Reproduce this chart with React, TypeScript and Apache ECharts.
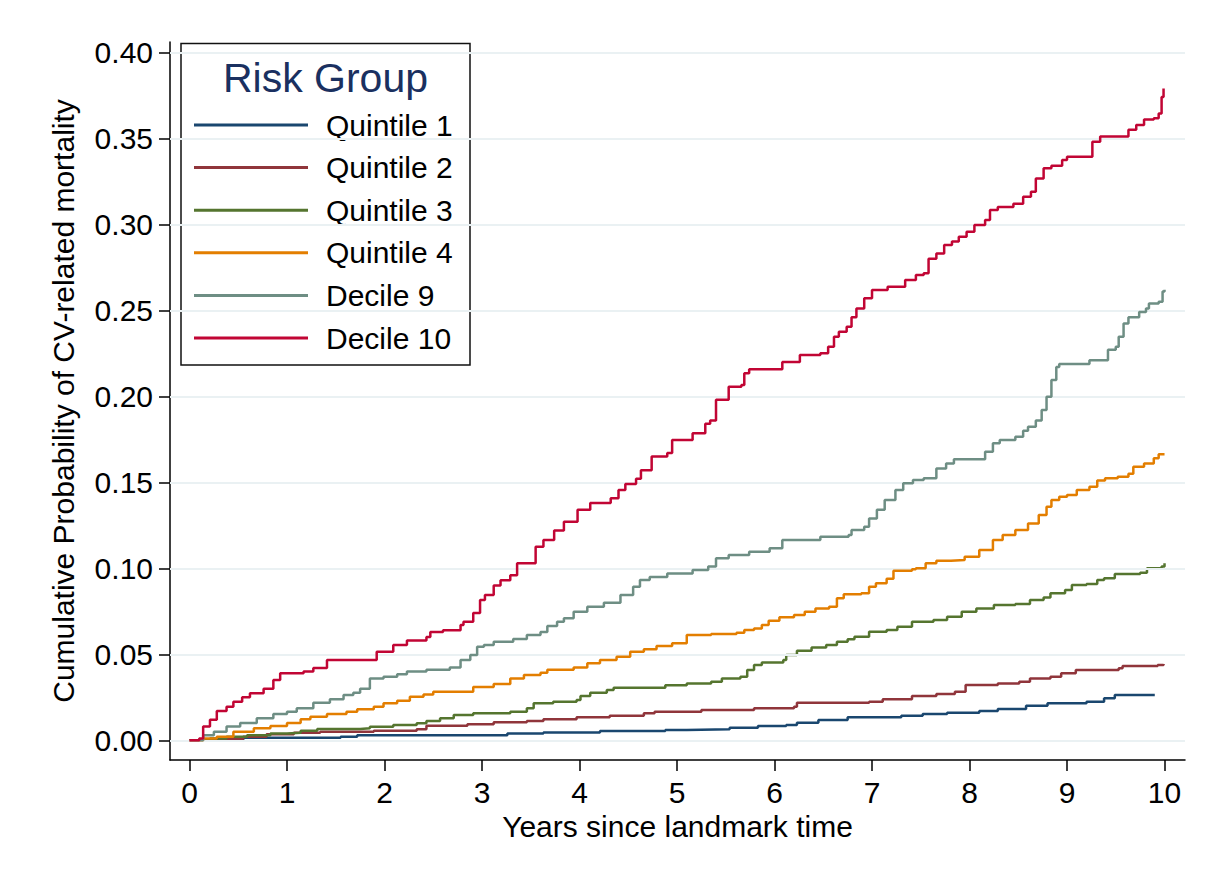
import React, { useEffect, useRef } from "react";
import * as echarts from "echarts";

const groups = ["Quintile 1", "Quintile 2", "Quintile 3", "Quintile 4", "Decile 9", "Decile 10"];
const colors = ["#1a476f", "#90353b", "#55752f", "#e37e00", "#6e8e84", "#c10534"];
const xTicks = [0, 1, 2, 3, 4, 5, 6, 7, 8, 9, 10];
const yTicks = [0, 0.05, 0.1, 0.15, 0.2, 0.25, 0.3, 0.35, 0.4];
const xTitle = "Years since landmark time";
const yTitle = "Cumulative Probability of CV-related mortality";
const legendTitle = "Risk Group";

const quintile1 = [[0,0],[0.52,0.0002],[0.55,0.0015],[1.55,0.002],[1.72,0.003],[3.26,0.004],[3.63,0.0046],[4.21,0.0054],[4.88,0.006],[5.10,0.0064],[5.54,0.0073],[5.83,0.0083],[6.12,0.0089],[6.23,0.0102],[6.45,0.0118],[6.75,0.0134],[7.30,0.0143],[7.52,0.0153],[7.77,0.016],[8.10,0.017],[8.29,0.0182],[8.58,0.0201],[8.80,0.0215],[9.20,0.0224],[9.38,0.0244],[9.49,0.0263],[9.90,0.0263]];

const quintile2 = [[0,0],[0.21,0.0008],[0.55,0.002],[0.79,0.0035],[1.07,0.0044],[1.34,0.005],[1.89,0.0056],[2.33,0.0064],[2.43,0.0085],[2.85,0.0093],[3.12,0.0105],[3.46,0.0112],[3.63,0.0122],[3.97,0.0134],[4.31,0.0143],[4.66,0.0157],[4.77,0.0166],[5.25,0.0176],[5.79,0.0186],[6.20,0.0195],[6.23,0.0219],[6.97,0.0224],[7.11,0.0238],[7.41,0.0258],[7.66,0.0269],[7.85,0.0283],[7.96,0.0322],[8.29,0.0331],[8.51,0.034],[8.62,0.036],[8.83,0.037],[8.94,0.039],[9.09,0.0409],[9.53,0.0419],[9.57,0.0432],[9.93,0.0438],[9.99,0.0444]];

const quintile3 = [[0,0],[0.21,0.001],[0.38,0.002],[0.59,0.003],[0.83,0.004],[1.0,0.0044],[1.14,0.0056],[1.31,0.0066],[1.75,0.007],[1.85,0.0079],[2.09,0.0089],[2.33,0.0099],[2.43,0.0112],[2.57,0.0128],[2.71,0.0147],[2.91,0.0157],[3.29,0.0166],[3.46,0.0186],[3.53,0.0215],[3.73,0.0224],[3.97,0.0234],[4.01,0.0258],[4.11,0.0277],[4.28,0.0292],[4.35,0.0306],[4.88,0.032],[5.10,0.0331],[5.35,0.034],[5.46,0.036],[5.65,0.037],[5.72,0.0409],[5.79,0.0438],[5.87,0.0453],[6.09,0.0467],[6.12,0.0496],[6.23,0.0521],[6.38,0.054],[6.53,0.0554],[6.64,0.0573],[6.75,0.0587],[6.82,0.0602],[6.97,0.0631],[7.15,0.0641],[7.26,0.066],[7.41,0.069],[7.63,0.070],[7.77,0.0718],[7.92,0.0748],[8.07,0.0767],[8.25,0.0787],[8.47,0.0792],[8.62,0.0816],[8.76,0.0831],[8.83,0.0855],[8.98,0.0874],[9.05,0.0903],[9.20,0.0909],[9.31,0.0932],[9.38,0.0942],[9.49,0.0967],[9.75,0.0974],[9.82,0.100],[9.97,0.101],[10.0,0.103]];

const quintile4 = [[0,0],[0.14,0.001],[0.28,0.002],[0.45,0.005],[0.66,0.007],[0.83,0.0083],[1.0,0.010],[1.14,0.0122],[1.24,0.0137],[1.41,0.0153],[1.61,0.0166],[1.72,0.018],[1.89,0.0195],[1.99,0.0215],[2.13,0.023],[2.26,0.0253],[2.40,0.0267],[2.50,0.0283],[2.91,0.031],[3.12,0.0327],[3.29,0.036],[3.43,0.038],[3.60,0.0393],[3.67,0.041],[3.94,0.0424],[4.08,0.0448],[4.21,0.0467],[4.38,0.0486],[4.52,0.0515],[4.66,0.053],[4.79,0.0548],[4.95,0.0564],[5.10,0.0612],[5.35,0.0618],[5.61,0.0626],[5.69,0.0641],[5.79,0.065],[5.87,0.067],[5.94,0.0695],[6.05,0.0715],[6.20,0.0728],[6.31,0.0748],[6.42,0.0767],[6.56,0.0777],[6.64,0.0826],[6.71,0.0849],[6.89,0.0855],[6.97,0.0893],[7.04,0.0913],[7.15,0.094],[7.22,0.0986],[7.41,0.0994],[7.45,0.100],[7.55,0.103],[7.66,0.1044],[7.81,0.1048],[7.95,0.1067],[8.10,0.1106],[8.24,0.1165],[8.34,0.1194],[8.47,0.1223],[8.60,0.126],[8.71,0.131],[8.79,0.1358],[8.84,0.1397],[8.92,0.1416],[9.00,0.1426],[9.10,0.1455],[9.23,0.1474],[9.31,0.151],[9.39,0.1523],[9.52,0.1533],[9.63,0.155],[9.68,0.159],[9.79,0.161],[9.89,0.164],[9.94,0.1663],[10.0,0.1663]];

const decile9 = [[0,0],[0.14,0.003],[0.25,0.005],[0.38,0.008],[0.52,0.010],[0.69,0.0128],[0.86,0.0153],[1.0,0.0166],[1.10,0.0186],[1.27,0.0219],[1.44,0.0238],[1.58,0.0263],[1.68,0.0277],[1.75,0.030],[1.85,0.036],[1.99,0.037],[2.13,0.0384],[2.23,0.040],[2.43,0.041],[2.67,0.0424],[2.78,0.0467],[2.88,0.0496],[2.95,0.0544],[3.02,0.0554],[3.12,0.0573],[3.32,0.0589],[3.46,0.0612],[3.60,0.063],[3.67,0.0665],[3.77,0.069],[3.84,0.071],[3.94,0.0748],[4.08,0.0777],[4.25,0.080],[4.42,0.0845],[4.55,0.0893],[4.62,0.0932],[4.72,0.095],[4.90,0.097],[5.16,0.099],[5.32,0.101],[5.40,0.1058],[5.53,0.1077],[5.74,0.1096],[5.95,0.1116],[6.08,0.1165],[6.47,0.1184],[6.76,0.1194],[6.79,0.1223],[6.92,0.1242],[6.97,0.129],[7.05,0.134],[7.13,0.1397],[7.24,0.1455],[7.32,0.1494],[7.42,0.1513],[7.53,0.1523],[7.66,0.158],[7.76,0.161],[7.84,0.1634],[8.16,0.1678],[8.24,0.1727],[8.31,0.1746],[8.47,0.1765],[8.55,0.180],[8.60,0.1823],[8.68,0.186],[8.74,0.192],[8.79,0.1998],[8.84,0.2095],[8.89,0.217],[8.92,0.2188],[9.23,0.221],[9.42,0.227],[9.50,0.2288],[9.53,0.2347],[9.58,0.2424],[9.63,0.246],[9.74,0.249],[9.81,0.251],[9.84,0.254],[9.94,0.255],[9.98,0.261],[10.0,0.262]];

const decile10 = [[0,0],[0.10,0.001],[0.14,0.008],[0.21,0.012],[0.28,0.017],[0.38,0.0195],[0.45,0.0224],[0.54,0.025],[0.62,0.0273],[0.76,0.030],[0.86,0.035],[0.93,0.039],[1.17,0.040],[1.27,0.042],[1.41,0.0467],[1.92,0.0515],[2.09,0.0554],[2.23,0.058],[2.43,0.060],[2.47,0.063],[2.60,0.064],[2.78,0.067],[2.81,0.069],[2.91,0.074],[2.98,0.0816],[3.03,0.0845],[3.12,0.090],[3.19,0.093],[3.29,0.096],[3.36,0.103],[3.55,0.1126],[3.63,0.1164],[3.74,0.122],[3.84,0.127],[3.98,0.134],[4.11,0.138],[4.32,0.1407],[4.40,0.1455],[4.47,0.149],[4.58,0.152],[4.63,0.157],[4.74,0.165],[4.90,0.167],[4.95,0.1746],[5.16,0.1785],[5.29,0.184],[5.34,0.186],[5.40,0.198],[5.53,0.2056],[5.66,0.2066],[5.69,0.2134],[5.74,0.2157],[6.08,0.220],[6.26,0.224],[6.47,0.225],[6.55,0.2288],[6.61,0.2347],[6.66,0.2376],[6.74,0.2405],[6.79,0.246],[6.84,0.251],[6.92,0.257],[7.00,0.2618],[7.16,0.2637],[7.34,0.2676],[7.45,0.2705],[7.53,0.2715],[7.58,0.280],[7.66,0.283],[7.74,0.288],[7.82,0.290],[7.89,0.2928],[7.97,0.2957],[8.05,0.2996],[8.16,0.3025],[8.21,0.3083],[8.29,0.310],[8.45,0.312],[8.55,0.316],[8.63,0.319],[8.68,0.3267],[8.76,0.3326],[8.84,0.334],[8.95,0.3374],[9.00,0.3393],[9.26,0.348],[9.34,0.351],[9.63,0.355],[9.71,0.3577],[9.79,0.361],[9.89,0.3616],[9.94,0.3645],[9.97,0.374],[9.99,0.379]];

const seriesData = [quintile1, quintile2, quintile3, quintile4, decile9, decile10];

const FONT = "'Liberation Sans', Arial, Helvetica, sans-serif";

export default function App() {
  const ref = useRef<HTMLDivElement>(null);
  useEffect(() => {
    if (!ref.current) return;
    const chart = echarts.init(ref.current, null, { renderer: "svg" });
    const option: any = {
      animation: false,
      backgroundColor: "#ffffff",
      textStyle: { fontFamily: FONT },
      grid: { left: 170, right: 23, top: 42, bottom: 112, containLabel: false },
      xAxis: {
        type: "value",
        min: -0.2,
        max: 10.21,
        axisLine: { show: true, onZero: false, lineStyle: { color: "#000", width: 1.5 } },
        axisTick: { show: true, customValues: xTicks, length: 11, lineStyle: { color: "#000", width: 1.5 } },
        axisLabel: { customValues: xTicks, fontSize: 30, color: "#000", margin: 17, fontFamily: FONT },
        splitLine: { show: false },
        name: xTitle,
        nameLocation: "middle",
        nameGap: 49,
        nameTextStyle: { fontSize: 30, color: "#000", fontFamily: FONT },
      },
      yAxis: {
        type: "value",
        min: -0.01145,
        max: 0.406,
        axisLine: { show: true, onZero: false, lineStyle: { color: "#000", width: 1.5 } },
        axisTick: { show: true, customValues: yTicks, length: 11, lineStyle: { color: "#000", width: 1.5 } },
        axisLabel: {
          customValues: yTicks,
          fontSize: 30,
          color: "#000",
          margin: 17,
          fontFamily: FONT,
          formatter: (v: number) => v.toFixed(2),
        },
        splitLine: { show: false },
        name: yTitle,
        nameLocation: "middle",
        nameGap: 92,
        nameTextStyle: { fontSize: 30, color: "#000", fontFamily: FONT },
      },
      legend: {
        orient: "vertical",
        left: 194,
        top: 110,
        padding: 0,
        itemWidth: 114,
        itemHeight: 3,
        itemGap: 12.6,
        icon: "rect",
        selectedMode: false,
        data: groups,
        textStyle: { fontSize: 30, color: "#000", lineHeight: 30, fontFamily: FONT, padding: [0, 0, 0, 13] },
      },
      graphic: [
        {
          type: "rect",
          shape: { x: 181, y: 43.5, width: 289, height: 321.5 },
          style: { fill: "#fff", stroke: "#111", lineWidth: 1.5 },
          z: 0,
        },
        {
          type: "text",
          x: 325.5,
          y: 78,
          style: {
            text: legendTitle,
            fill: "#1a3060",
            font: `41px ${FONT}`,
            textAlign: "center",
            textVerticalAlign: "middle",
          },
          z: 1,
        },
      ],
      series: [
        {
          type: "line",
          name: "__grid",
          data: [],
          z: 1,
          silent: true,
          markLine: {
            silent: true,
            symbol: "none",
            label: { show: false },
            lineStyle: { color: "#eaf1f3", width: 2, type: "solid" },
            data: yTicks.map((v) => ({ yAxis: v })),
          },
        },
        ...groups.map((g, i) => ({
          type: "line",
          name: g,
          data: seriesData[i],
          step: "end",
          showSymbol: false,
          symbol: "none",
          z: 2 + i,
          lineStyle: { color: colors[i], width: 2.5 },
          itemStyle: { color: colors[i] },
        })),
      ],
    };
    chart.setOption(option);
    return () => chart.dispose();
  }, []);
  return (
    <div
      ref={ref}
      style={{ position: "fixed", left: 0, top: 0, width: 1208, height: 872, background: "#fff" }}
    />
  );
}
